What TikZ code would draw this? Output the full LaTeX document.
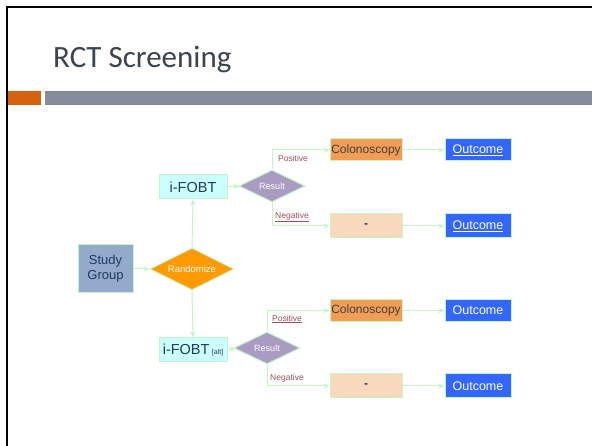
\documentclass[tikz,border=0pt]{standalone}
\usepackage{fontspec}
\setmainfont{Liberation Sans}
\newfontfamily\titlefont{Carlito}
\usetikzlibrary{shapes.geometric,arrows.meta}
\definecolor{lgreen}{HTML}{C4F5C4}
\definecolor{barorange}{HTML}{D4620E}
\definecolor{bargray}{HTML}{858D9A}
\definecolor{sgfill}{HTML}{94AACC}
\definecolor{cyanfill}{HTML}{CCFFFF}
\definecolor{purpfill}{HTML}{A99BC2}
\definecolor{randfill}{HTML}{FF9A00}
\definecolor{colfill}{HTML}{F29D55}
\definecolor{peach}{HTML}{F9D9BC}
\definecolor{outblue}{HTML}{3366FF}
\definecolor{navy}{HTML}{1F3A60}
\definecolor{labred}{HTML}{A0505A}
\definecolor{titlegray}{HTML}{3B4450}
\tikzset{
  box/.style={draw=lgreen, line width=1pt, rectangle, inner sep=0pt, font=\fontsize{12.5}{14}\selectfont},
  dia/.style={draw=lgreen, line width=1pt, diamond, inner sep=0pt, text=white, font=\fontsize{9}{10}\selectfont},
  conn/.style={draw=lgreen, line width=1pt, -{Stealth[length=6pt,width=5pt]}},
  lab/.style={text=labred, font=\fontsize{8.5}{9}\selectfont, inner sep=0pt},
}
\begin{document}
\begin{tikzpicture}[x=1pt,y=-1pt]
\useasboundingbox (0,0) rectangle (592,446);
\fill[white] (0,0) rectangle (592,446);
% frame
\draw[line width=2pt] (7,446) -- (7,7) -- (592,7);
% title
\node[anchor=base west, inner sep=0pt, text=titlegray, font=\titlefont\fontsize{31}{34}\selectfont] (title) at (53,68) {RCT Screening};
\fill[barorange] (8,91) rectangle (41,105);
\fill[bargray] (45,91) rectangle (592,105);
% nodes
\node[box, fill=sgfill, text=navy, minimum width=55pt, minimum height=48pt, align=center, font=\fontsize{13}{15}\selectfont] (sg) at (105.5,269) {Study\\Group};
\node[dia, fill=randfill, minimum width=84pt, minimum height=42pt, aspect=2, font=\fontsize{9.5}{10}\selectfont] (rand) at (192,269) {Randomize};
\node[box, fill=cyanfill, text=navy, minimum width=68pt, minimum height=24pt, font=\fontsize{14.5}{15}\selectfont] (f1) at (193,187) {i-FOBT};
\node[box, fill=cyanfill, text=navy, minimum width=68pt, minimum height=24pt, font=\fontsize{14.5}{15}\selectfont] (f2) at (193,350) {i-FOBT\,{\fontsize{7}{8}\selectfont[alt]}};
\node[dia, fill=purpfill, minimum width=66pt, minimum height=32pt, aspect=2] (r1) at (272,186) {Result};
\node[dia, fill=purpfill, minimum width=66pt, minimum height=32pt, aspect=2] (r2) at (267,348) {Result};
\node[box, fill=colfill, text=black!75, minimum width=72pt, minimum height=22pt, font=\fontsize{12}{13}\selectfont] (c1) at (366,150) {Colonoscopy};
\node[box, fill=peach, text=navy, minimum width=72pt, minimum height=24pt, font=\bfseries\fontsize{12}{13}\selectfont] (n1) at (366,226) {-};
\node[box, fill=colfill, text=black!75, minimum width=72pt, minimum height=22pt, font=\fontsize{12}{13}\selectfont] (c2) at (366,310.5) {Colonoscopy};
\node[box, fill=peach, text=navy, minimum width=72pt, minimum height=24pt, font=\bfseries\fontsize{12}{13}\selectfont] (n2) at (366,386) {-};
\node[box, fill=outblue, text=white, minimum width=66pt, minimum height=22pt] (o1) at (478,150) {\underline{Outcome}};
\node[box, fill=outblue, text=white, minimum width=66pt, minimum height=24pt] (o2) at (478,226) {\underline{Outcome}};
\node[box, fill=outblue, text=white, minimum width=66pt, minimum height=22pt] (o3) at (478,310.5) {Outcome};
\node[box, fill=outblue, text=white, minimum width=66pt, minimum height=24pt] (o4) at (478,386) {Outcome};
% labels
\node[lab] (p1) at (293,158) {Positive};
\node[lab] (g1) at (292,217) {\underline{Negative}};
\node[lab] (p2) at (287,319) {\underline{Positive}};
\node[lab] (g2) at (287,378) {Negative};
% connectors
\draw[conn] (sg) -- (rand);
\draw[conn] (rand.north) -- (f1.south);
\draw[conn] (rand.south) -- (f2.north);
\draw[conn] (f1) -- (r1);
\draw[conn] (f2) -- (r2);
\draw[conn] (r1.north) |- (c1.west);
\draw[conn] (r1.south) |- (n1.west);
\draw[conn] (r2.north) |- (c2.west);
\draw[conn] (r2.south) |- (n2.west);
\draw[conn] (c1) -- (o1);
\draw[conn] (n1) -- (o2);
\draw[conn] (c2) -- (o3);
\draw[conn] (n2) -- (o4);
\end{tikzpicture}
\end{document}
